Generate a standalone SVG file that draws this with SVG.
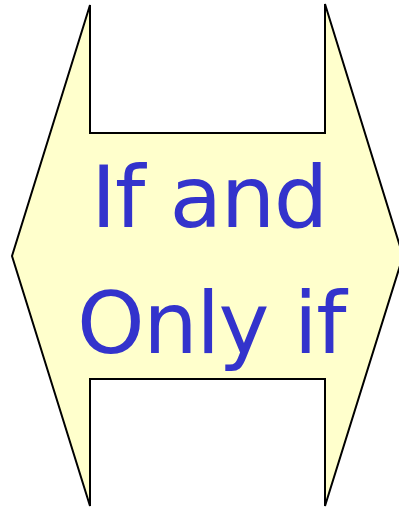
<svg xmlns="http://www.w3.org/2000/svg" width="399" height="508" viewBox="0 0 399 508">
<style>
.shape{fill:#ffffcc;stroke:#000;stroke-width:2;stroke-linejoin:miter}
.t{font-family:"DejaVu Sans",sans-serif;font-size:86px;fill:#3333cc;text-anchor:middle;letter-spacing:-1.5px}
</style>
<rect width="399" height="508" fill="#fff"/>
<g id="arrow">
<path class="shape" d="M90,5 L90,133 L325,133 L325,4 L403,256 L325,506 L325,379 L90,379 L90,506 L12,256 Z"/>
</g>
<g id="label">
<text class="t" x="209" y="227">If and</text>
<text class="t" x="211" y="353">Only if</text>
</g>
</svg>
